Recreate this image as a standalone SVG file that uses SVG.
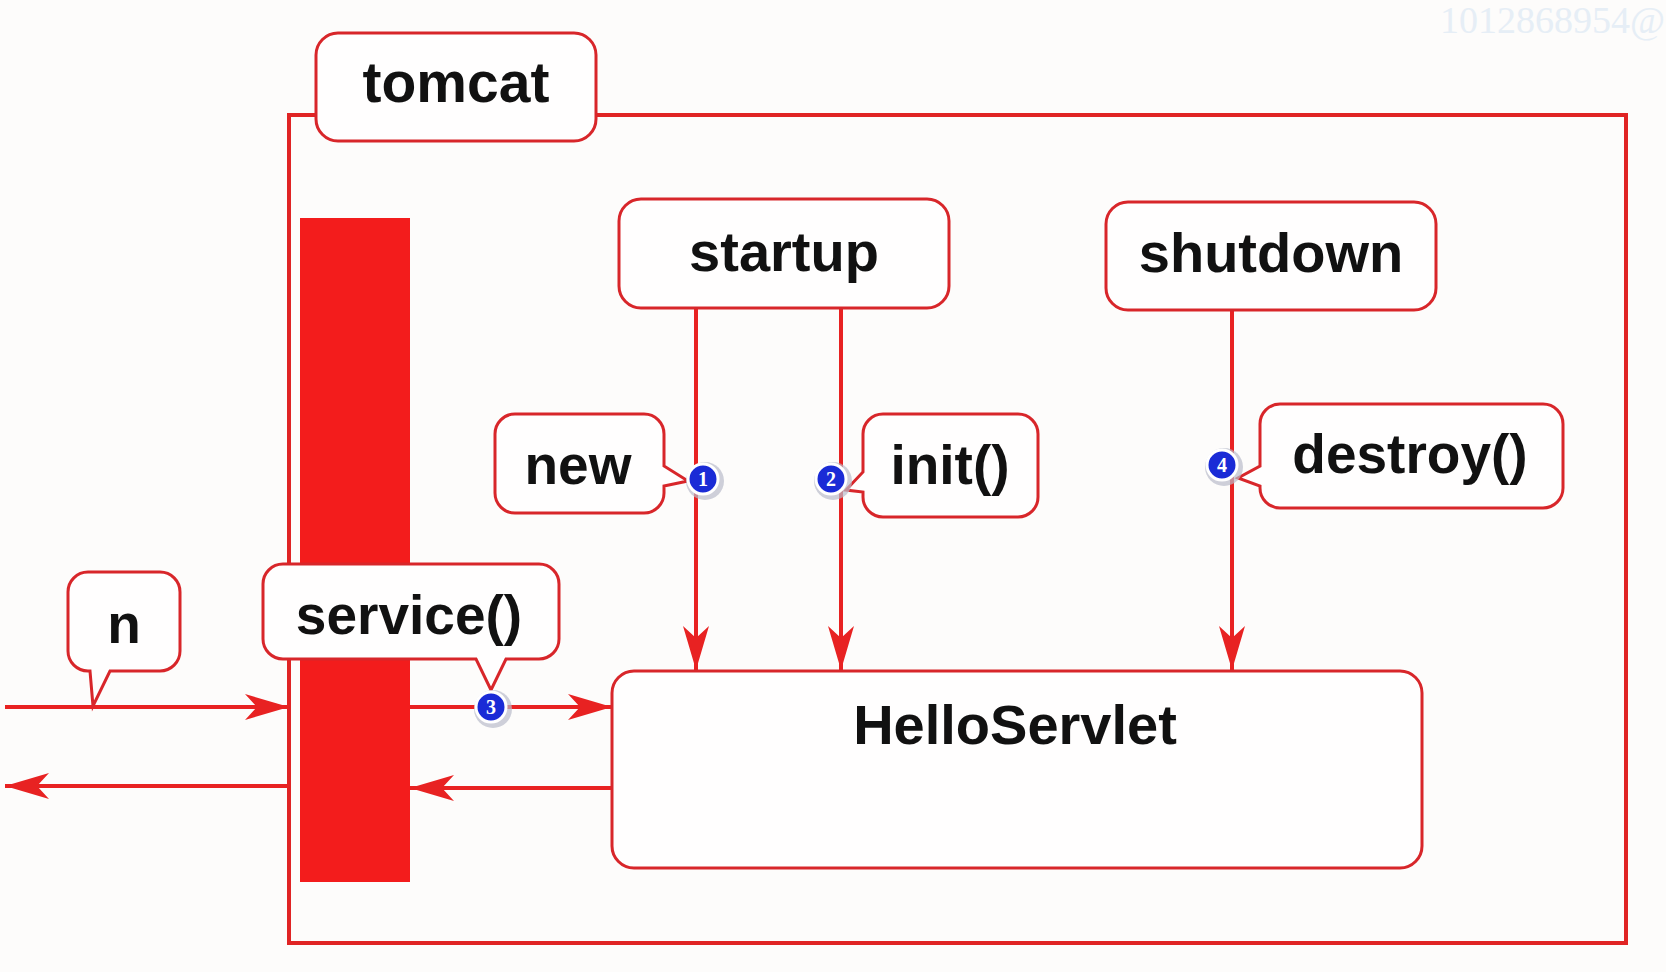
<svg xmlns="http://www.w3.org/2000/svg" width="1666" height="972" viewBox="0 0 1666 972">
<style>
.box{fill:#fffefe;stroke:#d8262a;stroke-width:3}
.lbl{font-family:"Liberation Sans",Arial,sans-serif;font-weight:bold;fill:#111;text-anchor:middle}
.conn{stroke:#e82222;stroke-width:4;fill:none}
.num circle.b{fill:#1a2bd6;stroke:#ffffff;stroke-width:3}
.num circle.s{fill:#b9bccb;opacity:0.7}
.num text{font-family:"Liberation Serif",serif;font-size:20px;font-weight:bold;fill:#fff;text-anchor:middle}
</style>
<defs>
<marker id="ah" markerUnits="userSpaceOnUse" viewBox="0 -14 46 28" markerWidth="46" markerHeight="28" refX="44" refY="0" orient="auto">
<path d="M0,-13 L44,0 L0,13 L12,0 Z" fill="#e82222"/>
</marker>
</defs>
<rect width="1666" height="972" fill="#fdfcfb"/>
<text x="1440" y="33" font-family="Liberation Serif,serif" font-size="38" fill="#e6eef6">1012868954@</text>

<g id="tomcat-frame">
<rect x="289" y="115" width="1337" height="828" fill="none" stroke="#e02424" stroke-width="4"/>
</g>
<g id="bar">
<rect x="300" y="218" width="110" height="664" fill="#f31c1c"/>
</g>

<g id="connectors">
<line class="conn" x1="5" y1="707" x2="289" y2="707" marker-end="url(#ah)"/>
<line class="conn" x1="410" y1="707" x2="612" y2="707" marker-end="url(#ah)"/>
<line class="conn" x1="612" y1="788" x2="410" y2="788" marker-end="url(#ah)"/>
<line class="conn" x1="289" y1="786" x2="5" y2="786" marker-end="url(#ah)"/>
<line class="conn" x1="696" y1="308" x2="696" y2="670" marker-end="url(#ah)"/>
<line class="conn" x1="841" y1="308" x2="841" y2="670" marker-end="url(#ah)"/>
<line class="conn" x1="1232" y1="310" x2="1232" y2="670" marker-end="url(#ah)"/>
</g>

<g id="tomcat">
<rect class="box" x="316" y="33" width="280" height="108" rx="22"/>
<text class="lbl" x="456" y="102" font-size="57">tomcat</text>
</g>
<g id="startup">
<rect class="box" x="619" y="199" width="330" height="109" rx="22"/>
<text class="lbl" x="784" y="271" font-size="56">startup</text>
</g>
<g id="shutdown">
<rect class="box" x="1106" y="202" width="330" height="108" rx="22"/>
<text class="lbl" x="1271" y="272" font-size="56">shutdown</text>
</g>
<g id="helloservlet">
<rect class="box" x="612" y="671" width="810" height="197" rx="22"/>
<text class="lbl" x="1015" y="744" font-size="56">HelloServlet</text>
</g>
<g id="new">
<path class="box" d="M515,414 H644 A20,20 0 0 1 664,434 V466 L688,481 L664,486 V493 A20,20 0 0 1 644,513 H515 A20,20 0 0 1 495,493 V434 A20,20 0 0 1 515,414 Z"/>
<text class="lbl" x="578" y="484" font-size="55">new</text>
</g>
<g id="init">
<path class="box" d="M883,414 H1018 A20,20 0 0 1 1038,434 V497 A20,20 0 0 1 1018,517 H883 A20,20 0 0 1 863,497 V492 L846,490 L863,472 V434 A20,20 0 0 1 883,414 Z"/>
<text class="lbl" x="950" y="484" font-size="55">init()</text>
</g>
<g id="destroy">
<path class="box" d="M1280,404 H1543 A20,20 0 0 1 1563,424 V488 A20,20 0 0 1 1543,508 H1280 A20,20 0 0 1 1260,488 V486 L1238,478 L1260,466 V424 A20,20 0 0 1 1280,404 Z"/>
<text class="lbl" x="1410" y="473" font-size="55">destroy()</text>
</g>
<g id="service">
<path class="box" d="M283,564 H539 A20,20 0 0 1 559,584 V639 A20,20 0 0 1 539,659 H506 L491,690 L476,659 H283 A20,20 0 0 1 263,639 V584 A20,20 0 0 1 283,564 Z"/>
<text class="lbl" x="409" y="634" font-size="55">service()</text>
</g>
<g id="n">
<path class="box" d="M88,572 H160 A20,20 0 0 1 180,592 V651 A20,20 0 0 1 160,671 H110 L93,706 L90,671 H88 A20,20 0 0 1 68,651 V592 A20,20 0 0 1 88,572 Z"/>
<text class="lbl" x="124" y="643" font-size="55">n</text>
</g>

<g id="badge1" class="num"><circle class="s" cx="705" cy="481" r="19"/><circle class="b" cx="703" cy="479" r="15"/><text x="703" y="486">1</text></g>
<g id="badge2" class="num"><circle class="s" cx="833" cy="481" r="19"/><circle class="b" cx="831" cy="479" r="15"/><text x="831" y="486">2</text></g>
<g id="badge3" class="num"><circle class="s" cx="493" cy="709" r="19"/><circle class="b" cx="491" cy="707" r="15"/><text x="491" y="714">3</text></g>
<g id="badge4" class="num"><circle class="s" cx="1224" cy="467" r="19"/><circle class="b" cx="1222" cy="465" r="15"/><text x="1222" y="472">4</text></g>
</svg>
